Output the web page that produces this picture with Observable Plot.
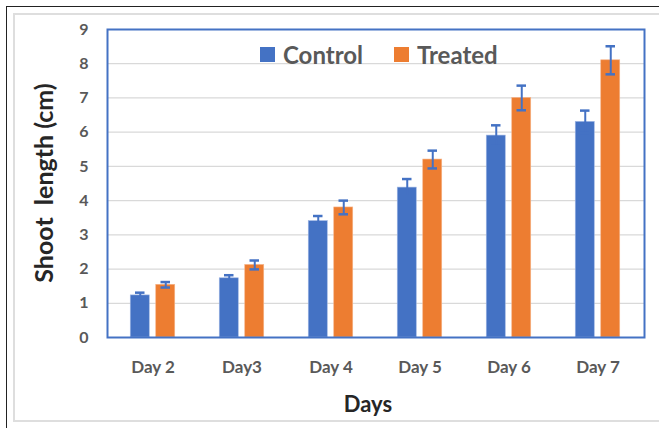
<!DOCTYPE html>
<html>
<head>
<meta charset="utf-8">
<script src="https://cdn.jsdelivr.net/npm/d3@7"></script>
<script src="https://cdn.jsdelivr.net/npm/@observablehq/plot@0.6"></script>
<style>
  html, body { margin: 0; padding: 0; background: #fff; }
  #wrap { position: relative; width: 659px; height: 428px; overflow: hidden; font-family: Lato, sans-serif; }
  #outer { position: absolute; left: 6px; top: 6px; width: 700px; height: 500px; border-left: 1.5px solid #222; border-top: 1.5px solid #222; box-sizing: border-box; }
  #inner { position: absolute; left: 13px; top: 13px; width: 700px; height: 409px; border: 2px solid #dedede; box-sizing: border-box; }
  #chart { position: absolute; left: 0; top: 0; }
  .ytitle { position: absolute; left: 43px; top: 183px; transform: translate(-50%, -50%) rotate(-90deg); font-size: 25px; font-weight: 700; color: #262626; white-space: pre; line-height: 1; }
  .xtitle { position: absolute; left: 368px; top: 404px; transform: translate(-50%, -50%); font-size: 22px; font-weight: 700; color: #262626; line-height: 1; }
  .leg { position: absolute; top: 55px; transform: translateY(-50%); font-size: 24px; font-weight: 700; color: #595959; line-height: 1; }
  .sw { position: absolute; top: 47px; width: 15px; height: 15px; }
  #chart g[aria-label="x-axis tick label"] text { font-size: 17px; }
</style>
</head>
<body>
<div id="wrap">
  <div id="outer"></div>
  <div id="inner"></div>
  <div id="chart"></div>
  <div class="ytitle">Shoot  length (cm)</div>
  <div class="xtitle">Days</div>
  <div class="sw" style="left:260px;background:#4472C4"></div>
  <div class="leg" style="left:283px">Control</div>
  <div class="sw" style="left:394px;background:#ED7D31"></div>
  <div class="leg" style="left:417px">Treated</div>
</div>
<script>
const days = ["Day 2", "Day3", "Day 4", "Day 5", "Day 6", "Day 7"];
const series = ["Control", "Treated"];
const controlValues = [1.23, 1.73, 3.4, 4.38, 5.9, 6.3];
const controlErrors = [0.08, 0.09, 0.15, 0.25, 0.3, 0.33];
const treatedValues = [1.54, 2.12, 3.8, 5.2, 7.0, 8.1];
const treatedErrors = [0.08, 0.13, 0.2, 0.26, 0.36, 0.41];
const yTicks = [0, 1, 2, 3, 4, 5, 6, 7, 8, 9];
const colors = ["#4472C4", "#ED7D31"];

const control = days.map((d, i) => ({day: d, series: "Control", v: controlValues[i], e: controlErrors[i]}));
const treated = days.map((d, i) => ({day: d, series: "Treated", v: treatedValues[i], e: treatedErrors[i]}));

const off = 12.75;
const errMarks = (data, dx) => [
  Plot.ruleX(data, {x: "day", y1: d => d.v - d.e, y2: d => d.v + d.e, dx, stroke: "#4472C4", strokeWidth: 2}),
  Plot.tickY(data, {x: "day", y: d => d.v + d.e, dx, stroke: "#4472C4", strokeWidth: 2.5, insetLeft: 4.75, insetRight: 4.75}),
  Plot.tickY(data, {x: "day", y: d => d.v - d.e, dx, stroke: "#4472C4", strokeWidth: 2.5, insetLeft: 4.75, insetRight: 4.75})
];

const chart = Plot.plot({
  width: 659,
  height: 428,
  marginLeft: 107,
  marginRight: 15,
  marginTop: 29,
  marginBottom: 91,
  style: {fontFamily: "Lato, sans-serif", fontSize: "16px", fontWeight: "700", color: "#595959", background: "transparent"},
  x: {domain: days, paddingInner: 0.782, paddingOuter: 0.391, label: null},
  y: {domain: [0, 9], label: null},
  color: {domain: series, range: colors},
  marks: [
    Plot.ruleY(yTicks.filter(t => t > 0), {stroke: "#d9d9d9", strokeWidth: 1.2}),
    Plot.barY(control, {x: "day", y: "v", fill: "series", dx: -off, stroke: "#9db5e3", strokeWidth: 0.6}),
    Plot.barY(treated, {x: "day", y: "v", fill: "series", dx: off, stroke: "#f6b48a", strokeWidth: 0.6}),
    ...errMarks(control, -off),
    ...errMarks(treated, off),
    Plot.frame({stroke: "#4472C4", strokeWidth: 2}),
    Plot.axisY({ticks: yTicks, tickSize: 0, tickPadding: 19, label: null, tickFormat: d => String(d)}),
    Plot.axisX({tickSize: 0, tickPadding: 23, label: null, fontSize: 17})
  ]
});
document.getElementById("chart").appendChild(chart);
</script>
</body>
</html>
